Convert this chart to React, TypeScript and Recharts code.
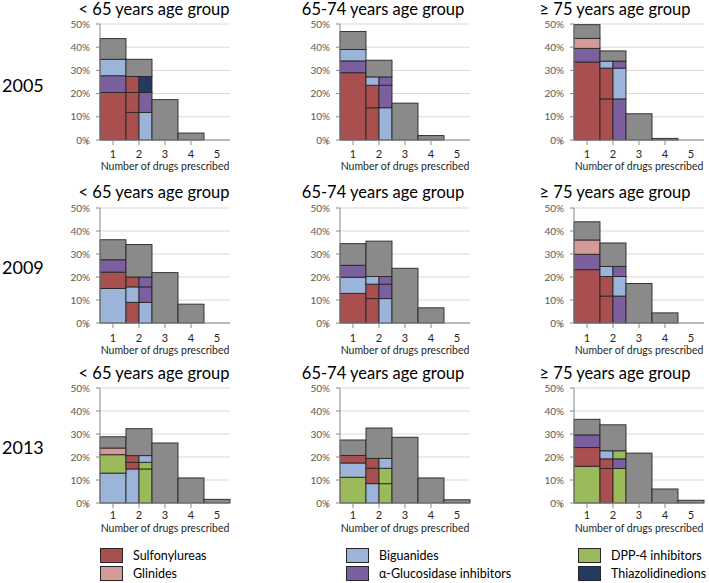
import React from 'react';
import { BarChart, Bar, XAxis, YAxis, CartesianGrid, Label } from 'recharts';

// drug classes and their fills
const CLASS_FILL: Record<string, string> = {
  SU: '#a94f4f',
  GL: '#d49a97',
  BG: '#9db4da',
  AGI: '#7b5f9f',
  DPP: '#9bbb5a',
  TZD: '#243a62',
  OTHER: '#8a8a8a',
};

const LEGEND = [
  ['SU', 'Sulfonylureas'],
  ['GL', 'Glinides'],
  ['BG', 'Biguanides'],
  ['AGI', 'α-Glucosidase inhibitors'],
  ['DPP', 'DPP-4 inhibitors'],
  ['TZD', 'Thiazolidinedions'],
];

const YEARS = ['2005', '2009', '2013'];
const AGE_GROUPS = ['< 65 years age group', '65-74 years age group', '≥ 75 years age group'];
const DRUG_COUNTS = [1, 2, 3, 4, 5];
const Y_TICKS = [0, 10, 20, 30, 40, 50];

// monotherapy segments (bottom up), dual combos [left drug, right drug, %], totals for 1..5 drugs
const mono_2005_lt65 = [['SU', 20.5], ['AGI', 7.2], ['BG', 7.1]];
const combo_2005_lt65 = [['SU', 'BG', 11.9], ['SU', 'AGI', 8.6], ['SU', 'TZD', 6.9]];
const totals_2005_lt65 = [43.7, 34.8, 17.4, 3.0, 0];

const mono_2005_6574 = [['SU', 29.0], ['AGI', 5.1], ['BG', 4.9]];
const combo_2005_6574 = [['SU', 'BG', 13.9], ['SU', 'AGI', 9.7], ['BG', 'AGI', 3.6]];
const totals_2005_6574 = [46.8, 34.4, 15.9, 1.9, 0];

const mono_2005_ge75 = [['SU', 33.6], ['AGI', 5.9], ['GL', 4.3]];
const combo_2005_ge75 = [['SU', 'AGI', 17.7], ['SU', 'BG', 13.3], ['BG', 'AGI', 3.0]];
const totals_2005_ge75 = [49.7, 38.4, 11.3, 0.7, 0];

const mono_2009_lt65 = [['BG', 15.0], ['SU', 7.1], ['AGI', 5.4]];
const combo_2009_lt65 = [['SU', 'BG', 9.0], ['BG', 'AGI', 6.7], ['SU', 'AGI', 4.3]];
const totals_2009_lt65 = [36.2, 34.1, 21.9, 8.2, 0];

const mono_2009_6574 = [['SU', 12.9], ['BG', 7.0], ['AGI', 5.2]];
const combo_2009_6574 = [['SU', 'BG', 10.6], ['SU', 'AGI', 6.3], ['BG', 'AGI', 3.3]];
const totals_2009_6574 = [34.5, 35.6, 23.8, 6.6, 0];

const mono_2009_ge75 = [['SU', 23.2], ['AGI', 6.7], ['GL', 6.2]];
const combo_2009_ge75 = [['SU', 'AGI', 11.7], ['SU', 'BG', 8.5], ['BG', 'AGI', 4.4]];
const totals_2009_ge75 = [44.0, 34.8, 17.2, 4.4, 0];

const mono_2013_lt65 = [['BG', 13.0], ['DPP', 8.0], ['GL', 2.9]];
const combo_2013_lt65 = [['BG', 'DPP', 14.8], ['SU', 'DPP', 2.9], ['SU', 'BG', 2.9]];
const totals_2013_lt65 = [28.8, 32.3, 26.1, 10.9, 1.6];

const mono_2013_6574 = [['DPP', 11.2], ['BG', 6.2], ['SU', 3.3]];
const combo_2013_6574 = [['BG', 'DPP', 8.4], ['SU', 'DPP', 6.7], ['SU', 'BG', 4.3]];
const totals_2013_6574 = [27.4, 32.6, 28.6, 10.9, 1.4];

const mono_2013_ge75 = [['DPP', 16.0], ['SU', 8.1], ['AGI', 5.5]];
const combo_2013_ge75 = [['SU', 'DPP', 15.0], ['SU', 'AGI', 4.2], ['BG', 'DPP', 3.5]];
const totals_2013_ge75 = [36.4, 34.0, 21.7, 6.1, 1.2];

const PANELS = [
  [mono_2005_lt65, combo_2005_lt65, totals_2005_lt65],
  [mono_2005_6574, combo_2005_6574, totals_2005_6574],
  [mono_2005_ge75, combo_2005_ge75, totals_2005_ge75],
  [mono_2009_lt65, combo_2009_lt65, totals_2009_lt65],
  [mono_2009_6574, combo_2009_6574, totals_2009_6574],
  [mono_2009_ge75, combo_2009_ge75, totals_2009_ge75],
  [mono_2013_lt65, combo_2013_lt65, totals_2013_lt65],
  [mono_2013_6574, combo_2013_6574, totals_2013_6574],
  [mono_2013_ge75, combo_2013_ge75, totals_2013_ge75],
];

// layout
const FONT = 'Lato, "Open Sans", sans-serif';
const PW = 130;
const YW = 40;
const MT = 8;
const DESC = 4; // room under the axis title for descenders
const COL_X = [100, 340, 574];
const TITLE_X = [154, 383, 615];
const ROW_Y50 = [24, 208, 388];
const ROW_PH = [116, 115, 115];
const ROW_XH = [30, 31, 29];
const TICK_DY = [13, 14, 11];
const TITLE_Y = [9, 192, 373];
const YEAR_Y = [85, 267, 447];
const KEYS = ['s0', 's1', 's2', 's3'];

// two half-slots per drug count; full-width pieces sit in the left slot
const buildRows = (mono: any[], combo: any[], totals: number[]) => {
  const rows: any[] = [];
  DRUG_COUNTS.forEach((n, i) => {
    const a: any = { slot: n + 'a', n };
    const b: any = { slot: n + 'b', n };
    KEYS.forEach(k => { a[k] = 0; b[k] = 0; });
    if (n === 1) {
      let sum = 0;
      mono.forEach(([c, v], j) => { a['s' + j] = v; a['s' + j + 'c'] = c; a['s' + j + 'f'] = true; sum += v; });
      a.s3 = totals[i] - sum; a.s3c = 'OTHER'; a.s3f = true;
    } else if (n === 2) {
      let sum = 0;
      combo.forEach(([l, r, v], j) => {
        a['s' + j] = v; a['s' + j + 'c'] = l;
        b['s' + j] = v; b['s' + j + 'c'] = r;
        sum += v;
      });
      a.s3 = totals[i] - sum; a.s3c = 'OTHER'; a.s3f = true;
    } else {
      a.s3 = totals[i]; a.s3c = 'OTHER'; a.s3f = true;
    }
    rows.push(a, b);
  });
  return rows;
};

const Seg = (props: any) => {
  const { x, y, width, height, payload, k } = props;
  const cls = payload[k + 'c'];
  if (!cls || !(height > 0)) return <g />;
  const w = payload[k + 'f'] ? width * 2 : width;
  return <rect x={x} y={y} width={w} height={height} fill={CLASS_FILL[cls]} stroke="#262626" strokeWidth={0.9} />;
};

const XTick = (props: any) => {
  const { x, y, payload, dy } = props;
  const half = PW / 10;
  return (
    <g>
      <line x1={x - 2 * half} x2={x - 2 * half} y1={y} y2={y + 5} stroke="#868686" />
      {payload.value === 5 && <line x1={x + 2 * half} x2={x + 2 * half} y1={y} y2={y + 5} stroke="#868686" />}
      <text x={x} y={y + dy} textAnchor="middle" dominantBaseline="central" fontSize={11} fill="#262626" fontFamily={FONT}>
        {payload.value}
      </text>
    </g>
  );
};

const Panel = ({ idx }: { idx: number }) => {
  const row = Math.floor(idx / 3);
  const col = idx % 3;
  const [mono, combo, totals] = PANELS[idx] as any;
  const data = buildRows(mono, combo, totals);
  const ph = ROW_PH[row];
  const xh = ROW_XH[row] + DESC;
  return (
    <div style={{ position: 'absolute', left: COL_X[col] - YW, top: ROW_Y50[row] - MT }}>
      <BarChart
        width={YW + PW + 6}
        height={MT + ph + xh}
        data={data}
        margin={{ top: MT, right: 6, left: 0, bottom: 0 }}
        barCategoryGap={0}
        barGap={0}
      >
        <CartesianGrid xAxisId="cat" vertical={false} stroke="#d9d9d9" />
        <XAxis xAxisId="half" dataKey="slot" hide />
        <XAxis
          xAxisId="cat"
          dataKey="n"
          allowDuplicatedCategory={false}
          interval={0}
          height={xh}
          tickLine={false}
          tickSize={0}
          tickMargin={0}
          axisLine={{ stroke: '#868686' }}
          tick={<XTick dy={TICK_DY[row]} />}
        >
          <Label
            value="Number of drugs prescribed"
            position="insideBottom"
            offset={DESC}
            style={{ fontSize: 10.5, fill: '#262626', fontFamily: FONT }}
          />
        </XAxis>
        <YAxis
          width={YW}
          domain={[0, 50]}
          ticks={Y_TICKS}
          interval={0}
          tickFormatter={(v: number) => v + '%'}
          tickSize={4}
          tickMargin={6}
          tickLine={{ stroke: '#868686' }}
          axisLine={{ stroke: '#868686' }}
          tick={{ fontSize: 10, fill: '#595959', fontFamily: FONT }}
        />
        {KEYS.map(k => (
          <Bar
            key={k}
            xAxisId="half"
            dataKey={k}
            stackId="a"
            isAnimationActive={false}
            shape={(p: any) => <Seg {...p} k={k} />}
          />
        ))}
      </BarChart>
    </div>
  );
};

const legendPos = [
  [100, 548], [100, 566], [346, 548], [346, 566], [578, 548], [578, 566],
];

export default function App() {
  return (
    <div style={{ position: 'absolute', left: 0, top: 0, width: 709, height: 583, background: '#fff', fontFamily: FONT, color: '#000' }}>
      {YEARS.map((yr, r) => (
        <div key={yr} style={{ position: 'absolute', left: 2, top: YEAR_Y[r] - 11, fontSize: 18, lineHeight: '22px' }}>{yr}</div>
      ))}
      {YEARS.map((_, r) =>
        AGE_GROUPS.map((t, c) => (
          <div
            key={r + '-' + c}
            style={{
              position: 'absolute',
              left: TITLE_X[c],
              top: TITLE_Y[r] - 7.5,
              transform: 'translateX(-50%)',
              whiteSpace: 'nowrap',
              fontSize: 16.5,
              lineHeight: '15px',
            }}
          >
            {t}
          </div>
        ))
      )}
      {PANELS.map((_, i) => <Panel key={i} idx={i} />)}
      {LEGEND.map(([c, name], i) => (
        <div key={c} style={{ position: 'absolute', left: legendPos[i][0], top: legendPos[i][1], display: 'flex', alignItems: 'center', height: 15 }}>
          <div style={{ width: 23, height: 15, background: CLASS_FILL[c], border: '1px solid #262626', boxSizing: 'border-box' }} />
          <span style={{ marginLeft: 10, fontSize: 12.5, lineHeight: '15px' }}>{name}</span>
        </div>
      ))}
    </div>
  );
}
